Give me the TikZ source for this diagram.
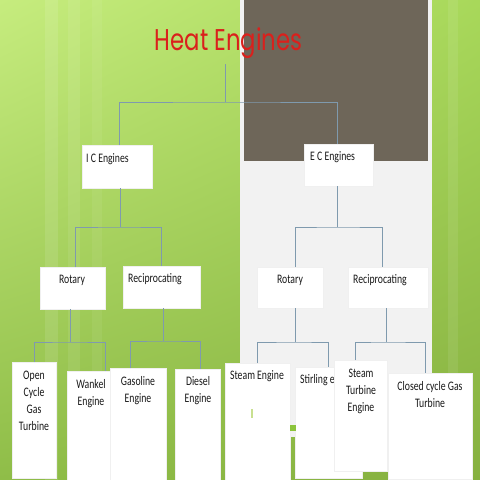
\documentclass[tikz,border=0pt]{standalone}
\usepackage{fontspec}
\usetikzlibrary{shadings}
\setmainfont{Carlito}
\newfontfamily\boxfont[FakeStretch=0.75]{Carlito}
\newfontfamily\titlefont[FakeStretch=0.76]{Poppins}
\definecolor{bgUL}{HTML}{C6EC7E}
\definecolor{bgUR}{HTML}{A8D85A}
\definecolor{bgLL}{HTML}{8FBD48}
\definecolor{bgLR}{HTML}{86B040}
\definecolor{panelgray}{HTML}{F2F2F2}
\definecolor{panelbrown}{HTML}{6E6659}
\definecolor{titlered}{HTML}{DA201C}
\definecolor{connc}{HTML}{7F9AAE}
\definecolor{markgreen}{HTML}{C8E090}
\definecolor{brightgreen}{HTML}{8CC43C}
\tikzset{
  box/.style={fill=white, draw=black!6, line width=0.4pt, inner sep=0pt, anchor=north west},
  lbl/.style={font=\boxfont\fontsize{13}{17}\selectfont, inner sep=0pt, align=center, text=black!90},
  conn/.style={draw=connc, line width=1pt},
}
\begin{document}
\begin{tikzpicture}[x=1pt,y=-1pt]
\useasboundingbox (0,0) rectangle (480,480);
% background
\shade[upper left=bgUL, upper right=bgUR, lower left=bgLL, lower right=bgLR] (0,0) rectangle (480,480);
\fill[white, opacity=0.10] (45,0) rectangle (58,480);
\fill[white, opacity=0.08] (68,0) rectangle (80,480);
\fill[white, opacity=0.06] (92,0) rectangle (102,480);
\fill[white, opacity=0.08] (448,0) rectangle (458,480);
% panel
\fill[panelgray] (240,0) rectangle (432,437);
\fill[panelbrown] (244,0) rectangle (428,161);
% title
\node[font=\titlefont\fontsize{30}{34}\selectfont, text=titlered, inner sep=0pt, anchor=base] (title) at (228.5,50) {Heat Engines};
\coordinate (t0) at (225,64);
\coordinate (h0) at (225,102);
\coordinate (h1) at (120,227);
\coordinate (h2) at (337.5,227);
\coordinate (h3) at (70,342);
\coordinate (h4) at (163,341);
\coordinate (h5) at (295,342);
\coordinate (h6) at (386,342);
% boxes
\node[box, minimum width=70pt, minimum height=43pt] (ic) at (82,145) {};
\node[box, minimum width=69pt, minimum height=42pt] (ec) at (304,144) {};
\node[box, minimum width=65pt, minimum height=42pt] (icr) at (40,267) {};
\node[box, minimum width=77pt, minimum height=42pt] (icp) at (123,266) {};
\node[box, minimum width=66pt, minimum height=41pt] (ecr) at (257,267) {};
\node[box, minimum width=80pt, minimum height=41pt] (ecp) at (348,267) {};
% connectors
\draw[conn] (t0) -- (h0);
\draw[conn] ([xshift=2.5pt]ic.north) |- (h0) -| ([xshift=-1.5pt]ec.north);
\draw[conn] (ic.south -| h1) -- (h1);
\draw[conn] ([xshift=2.5pt]icr.north) |- (h1) -| (icp.north);
\draw[conn] (ec.south -| h2) -- (h2);
\draw[conn] ([xshift=5pt]ecr.north) |- (h2) -| ([xshift=-6pt]ecp.north);
\draw[conn] (icr.south -| h3) -- (h3);
\draw[conn] (ecr.south -| h5) -- (h5);
\draw[conn] (icp.south -| h4) -- (h4);
\draw[conn] (ecp.south -| h6) -- (h6);
% bottom boxes
\node[box, minimum width=44pt, minimum height=116pt] (ocgt) at (12,362) {};
\node[box, minimum width=43pt, minimum height=110pt] (wankel) at (67,371) {};
\node[box, minimum width=56pt, minimum height=113pt] (gasoline) at (110,368) {};
\node[box, minimum width=45pt, minimum height=112pt] (diesel) at (175,369) {};
\node[box, minimum width=65pt, minimum height=118pt] (steam) at (225,363) {};
\node[box, minimum width=67pt, minimum height=111pt] (stirling) at (295,367) {};
% lower connectors
\draw[conn] (ocgt.north) |- (h3) -| ([xshift=-5pt]wankel.north east);
\draw[conn] ([xshift=-8pt]gasoline.north) |- (h4) -| ([xshift=2.5pt]diesel.north);
\draw[conn] (steam.north) |- (h5) -| (stirling.north);
% labels upper
\node[lbl, anchor=base west] (ic-t) at (86,162) {I C Engines};
\node[lbl, anchor=base west] (ec-t) at (310,160) {E C Engines};
\node[lbl, anchor=base] (icr-t) at (72,283) {Rotary};
\node[lbl, anchor=base west] (icp-t) at (128,282) {Reciprocating};
\node[lbl, anchor=base] (ecr-t) at (290,283) {Rotary};
\node[lbl, anchor=base west] (ecp-t) at (353,283) {Reciprocating};
% labels lower
\node[lbl, anchor=north] (ocgt-t) at (34,370.5) {Open\\Cycle\\Gas\\Turbine};
\node[lbl, anchor=north] (wankel-t) at (91,379) {Wankel\\Engine};
\node[lbl, anchor=north] (gasoline-t) at (138,376) {Gasoline\\Engine};
\node[lbl, anchor=north] (diesel-t) at (198,376) {Diesel\\Engine};
\node[lbl, anchor=base] (steam-t) at (257,379) {Steam Engine};
\fill[markgreen] (250.5,409) rectangle (252.5,418);
\fill[brightgreen] (290,425) rectangle (296,431);
\begin{scope}
\clip (295,367) rectangle (333.5,480);
\node[lbl, anchor=base west] (stirling-t) at (300,383) {Stirling engine};
\end{scope}
\node[box, minimum width=53pt, minimum height=111pt] (stturb) at (334,360) {};
\node[box, minimum width=84pt, minimum height=106pt] (closed) at (388,373) {};
\draw[conn] ([xshift=-5.5pt]stturb.north) |- (h6) -| ([xshift=-5pt]closed.north);
\node[lbl, anchor=north] (stturb-t) at (361,368.5) {Steam\\Turbine\\Engine};
\node[lbl, anchor=north] (closed-t) at (430,381.5) {Closed cycle Gas\\Turbine};
\end{tikzpicture}
\end{document}
